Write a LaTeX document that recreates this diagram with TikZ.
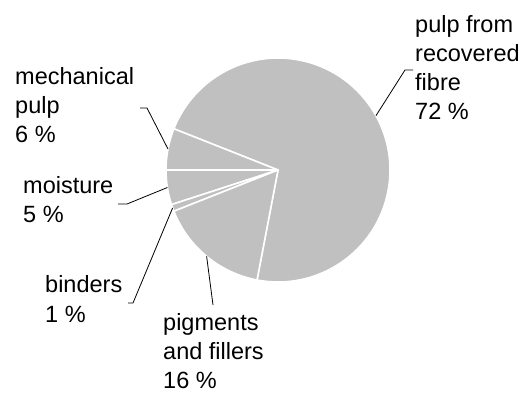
\documentclass[tikz,border=0pt]{standalone}
\usepackage{fontspec}
\setmainfont{Liberation Sans}
\definecolor{piegray}{HTML}{C0C0C0}
\begin{document}
\begin{tikzpicture}[x=1pt,y=1pt,
  slice/.style={fill=piegray,draw=white,line width=1.6pt,line join=round},
  lbl/.style={anchor=base west,inner sep=0pt,align=left,font=\fontsize{23.5}{29}\selectfont,text=black},
  leader/.style={draw=black,line width=0.8pt}]
\useasboundingbox (0,0) rectangle (525,394);
\coordinate (C) at (278,224);
\def\R{112}
% slices
\fill[slice] (C) -- ++(-100.8:\R) arc[start angle=-100.8,end angle=158.4,radius=\R] -- cycle;
\fill[slice] (C) -- ++(158.4:\R) arc[start angle=158.4,end angle=180,radius=\R] -- cycle;
\fill[slice] (C) -- ++(180:\R) arc[start angle=180,end angle=198,radius=\R] -- cycle;
\fill[slice] (C) -- ++(198:\R) arc[start angle=198,end angle=201.6,radius=\R] -- cycle;
\fill[slice] (C) -- ++(201.6:\R) arc[start angle=201.6,end angle=259.2,radius=\R] -- cycle;
% edge points
\path (C) ++(29:\R) coordinate (e1);
\path (C) ++(169.2:\R) coordinate (e2);
\path (C) ++(189:\R) coordinate (e3);
\path (C) ++(199.8:\R) coordinate (e4);
\path (C) ++(230.4:\R) coordinate (e5);
% labels (anchored at baseline of last line)
\node[lbl] (l1) at (415,274) {pulp from\\recovered\\fibre\\72 \%};
\node[lbl] (l2) at (15,251) {mechanical\\pulp\\6 \%};
\node[lbl] (l3) at (23,171) {moisture\\5 \%};
\node[lbl] (l4) at (45,72) {binders\\1 \%};
\node[lbl] (l5) at (163,6) {pigments\\and fillers\\16 \%};
% leader ends
\coordinate (t1a) at (413,324); \coordinate (t1b) at (405,324);
\coordinate (t2a) at (140,286); \coordinate (t2b) at (147,286);
\coordinate (t3a) at (118,190); \coordinate (t3b) at (127,190);
\coordinate (t4a) at (128,91);  \coordinate (t4b) at (133,91);
\coordinate (t5a) at (213,89);
\draw[leader] (t1a) -- (t1b) -- (e1);
\draw[leader] (t2a) -- (t2b) -- (e2);
\draw[leader] (t3a) -- (t3b) -- (e3);
\draw[leader] (t4a) -- (t4b) -- (e4);
\draw[leader] (t5a) -- (e5);
\end{tikzpicture}
\end{document}
